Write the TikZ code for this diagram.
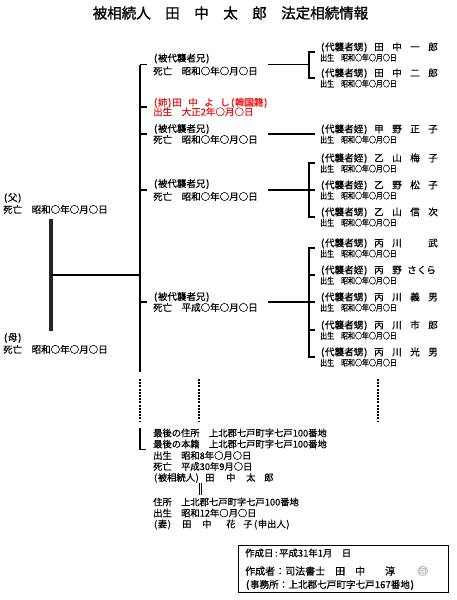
\documentclass[tikz,border=0pt]{standalone}
\usepackage{fontspec}
\setmainfont{Noto Sans CJK JP}
\newfontfamily\jp[FakeBold=0.5]{Noto Sans CJK JP}
\newfontfamily\jpt[FakeBold=1.2]{Noto Sans CJK JP}
\newfontfamily\jpn[FakeStretch=0.82,FakeBold=0.5]{Noto Sans CJK JP}
\definecolor{rd}{RGB}{232,20,20}
\definecolor{hl}{RGB}{255,185,185}
\newcommand\op{\makebox[0.5em][c]{(}}
\newcommand\cp{\makebox[0.5em][c]{)}}
\newcommand\rname[5]{{\jp\fontsize{9.6}{10.3}\selectfont\makebox[54pt][l]{#1}\makebox[18pt][l]{#2}\makebox[18pt][l]{#3}\makebox[18pt][l]{#4}#5}}
\newcommand\birth{{\jpn 出生　昭和○年○月○日}}
\tikzset{
  ln/.style={line width=1.1pt,black},
  dsh/.style={line width=1.1pt,black,dash pattern=on 2pt off 1.2pt},
  lcol/.style={anchor=west,inner sep=0pt,align=left,font=\jp\fontsize{9.5}{12}\selectfont},
  rcol/.style={anchor=west,inner sep=0pt,align=left,font=\jpn\fontsize{8.5}{10.3}\selectfont},
  bcol/.style={anchor=west,inner sep=0pt,font=\jp\fontsize{9.3}{10}\selectfont},
  boxtxt/.style={anchor=west,inner sep=0pt,font=\jp\fontsize{#1}{#1}\selectfont},
}
\begin{document}
\begin{tikzpicture}[x=1pt,y=-1pt]
\useasboundingbox (0,0) rectangle (456,600);
\fill[white] (0,0) rectangle (456,600);

% title
\node[font=\jpt\fontsize{14.5}{16}\selectfont,inner sep=0pt] (title) at (230.5,13) {被相続人　田　中　太　郎　法定相続情報};

% parents
\node[lcol] (fa) at (3,203.5) {\op 父\cp\\死亡　昭和○年○月○日};
\node[lcol] (mo) at (3,343.5) {\op 母\cp\\死亡　昭和○年○月○日};
\coordinate (pt) at (51,219);
\coordinate (pb) at (51,331);
\coordinate (pm) at (51,275);
\coordinate (jm) at (140,275);
\draw[line width=3.2pt,black!85] (pt) -- (pb);
\draw[ln] (pm) -- (jm);

% siblings column
\node[lcol] (b1) at (153,64.5) {\op 被代襲者兄\cp\\[1pt]死亡　昭和○年○月○日};
\node[lcol,text=rd] (s1) at (153,107) {\makebox[19pt][l]{\op 姉\cp}\makebox[16pt][l]{田}\makebox[16pt][l]{中}\makebox[16pt][l]{よ}\makebox[10pt][l]{し}\op 韓{\setlength\fboxsep{0pt}\colorbox{hl}{国}}籍\cp\\[-2.5pt]出生　大正2年○月○日};
\node[lcol] (b2) at (153,134) {\op 被代襲者兄\cp\\[-1pt]死亡　昭和○年○月○日};
\node[lcol] (b3) at (153,190) {\op 被代襲者兄\cp\\[1pt]死亡　昭和○年○月○日};
\node[lcol] (b4) at (153,302) {\op 被代襲者兄\cp\\[-1pt]死亡　平成○年○月○日};

\coordinate (vt) at (140,64.5);
\coordinate (vb) at (140,372);
\draw[ln] (vt) -- (vb);
\foreach \n in {b1,s1,b2,b3,b4}{
  \draw[ln] (\n.west -| vt) -- ([xshift=-6pt]\n.west);
}

% nephews / nieces
\node[rcol] (c1) at (320,52) {\rname{\op 代襲者甥\cp}{田}{中}{一}{郎}\\\birth};
\node[rcol] (c2) at (320,78) {\rname{\op 代襲者甥\cp}{田}{中}{二}{郎}\\\birth};
\node[rcol] (c3) at (320,134) {\rname{\op 代襲者姪\cp}{甲}{野}{正}{子}\\\birth};
\node[rcol] (c4) at (320,163) {\rname{\op 代襲者姪\cp}{乙}{山}{梅}{子}\\\birth};
\node[rcol] (c5) at (320,190) {\rname{\op 代襲者姪\cp}{乙}{野}{松}{子}\\\birth};
\node[rcol] (c6) at (320,217) {\rname{\op 代襲者甥\cp}{乙}{山}{信}{次}\\\birth};
\node[rcol] (c7) at (320,248) {\rname{\op 代襲者甥\cp}{丙}{川}{}{武}\\\birth};
\node[rcol] (c8) at (320,275) {\rname{\op 代襲者姪\cp}{丙}{野}{\hspace*{-3pt}さくら}{}\\\birth};
\node[rcol] (c9) at (320,302) {\rname{\op 代襲者甥\cp}{丙}{川}{義}{男}\\\birth};
\node[rcol] (c10) at (320,330) {\rname{\op 代襲者甥\cp}{丙}{川}{市}{郎}\\\birth};
\node[rcol] (c11) at (320,357) {\rname{\op 代襲者甥\cp}{丙}{川}{光}{男}\\\birth};

% brother -> children connectors
\coordinate (k1) at (309,64.5);
\coordinate (k3) at (309,190);
\coordinate (k5) at (309,302);
\draw[ln] ([xshift=115pt]b1.west) -- (k1);
\draw[ln] ([xshift=115pt]b2.west) -- ([xshift=-5pt]c3.west);
\draw[ln] ([xshift=115pt]b3.west) -- (k3);
\draw[ln] ([xshift=115pt]b4.west) -- (k5);
\draw[ln] ([xshift=-5pt]c1.west) -- (c1.west -| k1) -- (c2.west -| k1) -- ([xshift=-5pt]c2.west);
\draw[ln] ([xshift=-5pt]c4.west) -- (c4.west -| k3) -- (c6.west -| k3) -- ([xshift=-5pt]c6.west);
\draw[ln] (k3) -- ([xshift=-5pt]c5.west);
\draw[ln] ([xshift=-5pt]c7.west) -- (c7.west -| k5) -- (c11.west -| k5) -- ([xshift=-5pt]c11.west);
\foreach \n in {c8,c9,c10}{
  \draw[ln] (\n.west -| k5) -- ([xshift=-5pt]\n.west);
}

% omission (dashed) lines
\coordinate (da1) at (140,379); \coordinate (db1) at (140,422);
\coordinate (da2) at (199,379); \coordinate (db2) at (199,422);
\coordinate (da3) at (378,379); \coordinate (db3) at (378,422);
\draw[dsh] (da1) -- (db1);
\draw[dsh] (da2) -- (db2);
\draw[dsh] (da3) -- (db3);

% decedent
\node[bcol] (d1) at (153,433) {最後の住所　上北郡七戸町字七戸100番地};
\node[bcol] (d2) at (153,444) {最後の本籍　上北郡七戸町字七戸100番地};
\node[bcol] (d3) at (153,455.5) {出生　昭和8年○月○日};
\node[bcol] (d4) at (153,466.5) {死亡　平成30年9月○日};
\node[bcol] (d5) at (153,478) {\makebox[52pt][l]{\op 被相続人\cp}\makebox[21pt][l]{田}\makebox[20pt][l]{中}\makebox[18pt][l]{太}郎};
\coordinate (dt) at (140,428);
\coordinate (dc) at (140,449.5);
\coordinate (de) at (146,449.5);
\draw[ln] (dt) -- (dc) -- (de);

% marriage double line
\coordinate (m1) at (199,483); \coordinate (m2) at (199,495);
\draw[line width=0.8pt] (m1) -- (m2);
\draw[line width=0.8pt] ([xshift=2.6pt]m1) -- ([xshift=2.6pt]m2);

% spouse
\node[bcol] (w1) at (153,502) {住所　上北郡七戸町字七戸100番地};
\node[bcol] (w2) at (153,513) {出生　昭和12年○月○日};
\node[bcol] (w3) at (153,524.5) {\makebox[29pt][l]{\op 妻\cp}\makebox[20pt][l]{田}\makebox[24pt][l]{中}\makebox[17pt][l]{花}\makebox[10pt][l]{子}\op 申出人\cp};

% certificate box
\node[draw,line width=0.8pt,minimum width=210pt,minimum height=47pt,inner sep=0pt,anchor=north west] (cert) at (238,545) {};
\node[boxtxt=9.4] (r1) at (245,553) {作成日\,:\,平成31年1月　日};
\node[boxtxt=10] (r2) at (245,571) {作成者：司法書士　田　中　　淳};
\node[boxtxt=11,text=black!30] (seal) at (417,571) {㊞};
\node[boxtxt=9.6] (r3) at (245,585) {\op 事務所：上北郡七戸町字七戸167番地\cp};
\end{tikzpicture}
\end{document}
